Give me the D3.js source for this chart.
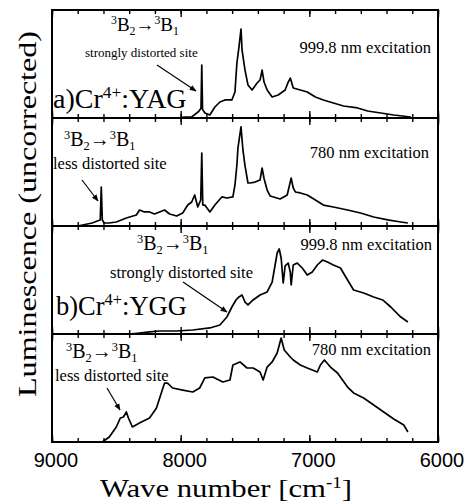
<!DOCTYPE html>
<html><head><meta charset="utf-8">
<script src="https://cdn.jsdelivr.net/npm/d3@7"></script>
<style>
html,body{margin:0;padding:0;background:#fff;}
svg{display:block;}
text{fill:#000;}
</style></head>
<body>
<script>
// ---- data (wave number cm^-1, luminescence in arbitrary units 0-100 per panel) ----
const yagA_w = [8000,7914,7860,7842,7836,7830,7812,7773,7734,7695,7656,7602,7578,7563,7547,7531,7523,7500,7477,7445,7406,7383,7367,7352,7328,7289,7242,7188,7164,7148,7125,7070,7016,6953,6891,6813,6734,6625,6547,6445,6344,6211];
const yagA_i = [0.5,1,6,9,49,8,4.6,2.8,10.2,14.8,16.7,16.7,24.1,50.9,65.7,82.4,63,44.4,30.6,25.9,32.4,35.2,44.4,33.3,25.9,19.4,21.3,25.9,33.3,37,27.8,25.9,24.1,19.4,16.7,13.9,11.1,9.3,6.5,4.6,2.8,0.9];

const yagB_w = [8800,8688,8648,8625,8617,8609,8594,8555,8500,8422,8344,8320,8281,8242,8203,8164,8125,8086,8031,7984,7945,7914,7891,7867,7844,7836,7828,7812,7773,7734,7680,7641,7594,7578,7563,7555,7531,7516,7500,7477,7461,7422,7383,7367,7352,7328,7305,7227,7172,7141,7125,7109,7070,7016,6953,6891,6813,6703,6602,6500,6391,6289,6234];
const yagB_i = [0,2.8,4.6,5.6,36.1,5.6,2.8,2.8,3.7,7.4,10.2,14.8,13,13,11.1,13,14.8,11.1,9.3,12,19.4,22.2,28.7,17.6,24.1,67.6,19.4,19.4,13,19.4,26.9,25.9,26.9,38,56.5,72.2,91.7,70.4,56,39.8,39.8,40.7,42.6,53.7,44,33.3,27.8,25,28.7,44.4,35.2,31.5,30.6,28.7,24.1,19.4,17.6,14.8,12,8.3,5.6,3.7,2.8];

const yggA_w = [8398,8320,8242,8164,8031,7906,7773,7695,7641,7602,7570,7547,7523,7500,7477,7437,7383,7328,7289,7266,7250,7234,7219,7203,7188,7164,7148,7141,7125,7094,7055,7016,6977,6938,6898,6859,6813,6758,6703,6656,6578,6500,6430,6367,6289,6234];
const yggA_i = [0,0.9,1.9,2.8,2.8,3.7,5.6,8.3,15.7,25,31.5,34.3,36.1,29.6,26.9,31.5,36.1,38.9,48.1,63.9,75,78.7,70.4,47.2,63,65.7,57,45.4,63.9,65.7,61.1,54.6,57.4,63.9,68.5,66.7,63.9,61.1,50,40.7,38,34.3,31.5,25,15.7,11.1];

const yggB_w = [8609,8555,8500,8469,8445,8422,8406,8375,8320,8242,8188,8148,8125,8102,8063,7984,7906,7852,7812,7750,7672,7617,7594,7539,7484,7437,7383,7359,7328,7289,7250,7219,7195,7148,7125,7070,7016,6938,6914,6883,6836,6781,6703,6656,6578,6500,6422,6344,6266,6234];
const yggB_i = [0,4.6,13.9,22.2,23.1,27.8,22.2,13.9,17.6,22.2,31.5,46.3,54.6,54.6,50,48.1,46.3,50,59.3,60.2,55.6,57.4,71.3,74.1,68.5,68.5,64.8,57.4,69.4,74.1,82.4,96.3,85.2,78.7,75.9,71.3,68.5,64.8,71.3,75.9,69.4,63.9,50.9,45.4,40.7,34.3,27.8,21.3,15.7,9.3];

const xTickLabels = [9000, 8000, 7000, 6000];
const excitations = ["999.8 nm excitation", "780 nm excitation", "999.8 nm excitation", "780 nm excitation"];
const siteLabels = ["strongly distorted site", "less distorted site", "strongly distorted site", "less distorted site"];
const sampleLabels = ["a)", "b)"];
const hosts = ["YAG", "YGG"];

// ---- layout ----
const W = 468, H = 502;
const pLeft = 52, pRight = 438, pTop = 10, panelH = 108;
const svg = d3.select("body").append("svg").attr("width", W).attr("height", H);
const serif = "'Liberation Serif','Times New Roman',serif";
const sans = "'Liberation Sans',Arial,sans-serif";

svg.append("defs").append("marker")
  .attr("id","ah").attr("viewBox","0 0 10 10").attr("refX",9).attr("refY",5)
  .attr("markerWidth",7).attr("markerHeight",7).attr("markerUnits","userSpaceOnUse")
  .attr("orient","auto")
  .append("path").attr("d","M0,1 L10,5 L0,9 Z").attr("fill","#000");

const x = d3.scaleLinear().domain([9000, 6000]).range([pLeft, pRight]);
const series = [[yagA_w, yagA_i],[yagB_w, yagB_i],[yggA_w, yggA_i],[yggB_w, yggB_i]];
const minorTicks = d3.range(6000, 9001, 200);

series.forEach((s, p) => {
  const y0 = pTop + p * panelH;
  const y = d3.scaleLinear().domain([0, 100]).range([y0 + panelH, y0]);
  const g = svg.append("g");
  const mkAxis = (fn, pos, vals, len) => {
    const ax = g.append("g").attr("transform", `translate(0,${pos})`)
      .call(fn(x).tickValues(vals).tickSize(-len).tickFormat(""));
    ax.select(".domain").remove();
    ax.selectAll("line").attr("stroke","#000").attr("stroke-width",1.4);
  };
  mkAxis(d3.axisBottom, y0 + panelH, minorTicks, 4);
  mkAxis(d3.axisBottom, y0 + panelH, xTickLabels, 7);
  mkAxis(d3.axisTop, y0, minorTicks, 4);
  mkAxis(d3.axisTop, y0, xTickLabels, 7);
  const pts = s[0].map((w, i) => [w, s[1][i]]);
  g.append("path").datum(pts)
    .attr("d", d3.line().x(d => x(d[0])).y(d => y(d[1])))
    .attr("fill","none").attr("stroke","#000").attr("stroke-width",1.7)
    .attr("stroke-linejoin","round");
});

svg.append("rect").attr("x", pLeft).attr("y", pTop).attr("width", pRight-pLeft).attr("height", panelH*4)
  .attr("fill","none").attr("stroke","#000").attr("stroke-width",2);
[1,2,3].forEach(k => svg.append("line").attr("x1",pLeft).attr("x2",pRight)
  .attr("y1",pTop+k*panelH).attr("y2",pTop+k*panelH).attr("stroke","#000").attr("stroke-width",2));

function rich(xp, yp, parts, size, anchor) {
  const t = svg.append("text").attr("x", xp).attr("y", yp)
    .attr("font-family", serif).attr("font-size", size).attr("text-anchor", anchor || "start");
  let shift = 0;
  parts.forEach(([txt, kind]) => {
    let target = 0, fs = size;
    if (kind === "sup") { target = -0.36*size; fs = size*0.62; }
    if (kind === "sub") { target = 0.2*size; fs = size*0.62; }
    t.append("tspan").attr("dy", target - shift).attr("font-size", fs).text(txt);
    shift = target;
  });
  return t;
}
const trans = [["3","sup"],["B",""],["2","sub"],["\u2192",""],["3","sup"],["B",""],["1","sub"]];

const transPos = [[111,31,19],[64,146,20],[137,250,20],[66,358,20]];
const sitePos = [[85,57,13],[53,169,16.5],[110,278,16.5],[55,381,16.5]];
const excPos = [[431,53],[429,158],[432,250],[431,355]];
const arrows = [[157,65,196,91],[82,180,98,201],[183,282,227,312],[107,388,120,410]];

transPos.forEach(([a,b,fs]) => rich(a, b, trans, fs));
sitePos.forEach(([a,b,fs], i) => svg.append("text").attr("x",a).attr("y",b)
  .attr("font-family",serif).attr("font-size",fs).text(siteLabels[i]));
excPos.forEach(([a,b], i) => svg.append("text").attr("x",a).attr("y",b)
  .attr("text-anchor","end").attr("font-family",serif).attr("font-size",16.5).text(excitations[i]));
arrows.forEach(([x1,y1,x2,y2]) => svg.append("line").attr("x1",x1).attr("y1",y1).attr("x2",x2).attr("y2",y2)
  .attr("stroke","#000").attr("stroke-width",1.2).attr("marker-end","url(#ah)"));

rich(53, 108, [[sampleLabels[0],""],["Cr",""],["4+","sup"],[":"+hosts[0],""]], 28);
rich(56, 315, [[sampleLabels[1],""],["Cr",""],["4+","sup"],[":"+hosts[1],""]], 26.5);

svg.append("g").selectAll("text").data(xTickLabels).join("text")
  .attr("x", d => x(d) + 4).attr("y", 467).attr("text-anchor","middle")
  .attr("font-family", sans).attr("font-size", 20).text(d => d);

rich(226, 497, [["Wave number [cm",""],["-1","sup"],["]",""]], 26, "middle")
  .attr("textLength", 252).attr("lengthAdjust","spacingAndGlyphs");
svg.append("text").attr("transform","translate(36,214) rotate(-90)")
  .attr("text-anchor","middle").attr("font-family",serif).attr("font-size",25)
  .attr("textLength", 366).attr("lengthAdjust","spacingAndGlyphs")
  .text("Luminescence (uncorrected)");
</script>
</body></html>
